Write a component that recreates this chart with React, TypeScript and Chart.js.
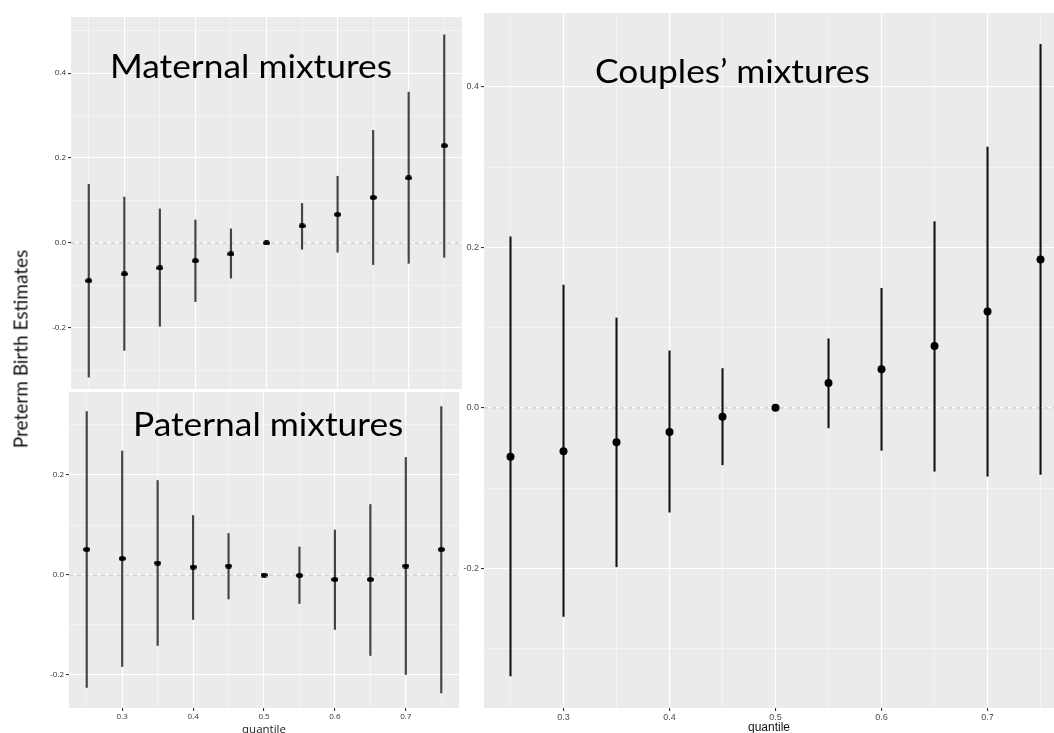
import React, { useEffect, useRef } from 'react';
import { Chart, registerables } from 'chart.js';

Chart.register(...registerables);

// ---------- data ----------
const QUANTILES = [0.25, 0.3, 0.35, 0.4, 0.45, 0.5, 0.55, 0.6, 0.65, 0.7, 0.75];

const MATERNAL_EST = [-0.089, -0.073, -0.059, -0.042, -0.026, 0, 0.04, 0.067, 0.107, 0.153, 0.229];
const MATERNAL_LOW = [-0.316, -0.253, -0.196, -0.138, -0.083, 0, -0.015, -0.022, -0.051, -0.048, -0.034];
const MATERNAL_HIGH = [0.138, 0.108, 0.08, 0.054, 0.033, 0, 0.093, 0.157, 0.265, 0.355, 0.49];

const PATERNAL_EST = [0.051, 0.033, 0.024, 0.016, 0.018, 0, -0.001, -0.009, -0.009, 0.018, 0.051];
const PATERNAL_LOW = [-0.225, -0.183, -0.141, -0.089, -0.048, 0, -0.057, -0.109, -0.161, -0.199, -0.236];
const PATERNAL_HIGH = [0.327, 0.248, 0.189, 0.119, 0.083, 0, 0.056, 0.09, 0.141, 0.235, 0.337];

const COUPLES_EST = [-0.061, -0.054, -0.043, -0.03, -0.011, 0, 0.031, 0.048, 0.077, 0.12, 0.185];
const COUPLES_LOW = [-0.334, -0.26, -0.198, -0.13, -0.071, 0, -0.025, -0.053, -0.079, -0.085, -0.083];
const COUPLES_HIGH = [0.213, 0.153, 0.112, 0.071, 0.049, 0, 0.086, 0.149, 0.232, 0.325, 0.453];

const X_GRID = [0.25, 0.3, 0.35, 0.4, 0.45, 0.5, 0.55, 0.6, 0.65, 0.7, 0.75];
const X_TICK_VALUES = [0.3, 0.4, 0.5, 0.6, 0.7];
const X_TICK_LABELS = ['0.3', '0.4', '0.5', '0.6', '0.7'];

const MATERNAL_Y_GRID = [-0.3, -0.2, -0.1, 0, 0.1, 0.2, 0.3, 0.4, 0.5];
const PATERNAL_Y_GRID = [-0.2, -0.1, 0, 0.1, 0.2, 0.3];
const COUPLES_Y_GRID = [-0.3, -0.2, -0.1, 0, 0.1, 0.2, 0.3, 0.4];
const Y_TICK_VALUES = [-0.2, 0, 0.2, 0.4];
const Y_TICK_LABELS = ['-0.2', '0.0', '0.2', '0.4'];

const TITLE_MATERNAL = 'Maternal mixtures';
const TITLE_PATERNAL = 'Paternal mixtures';
const TITLE_COUPLES = 'Couples\u2019 mixtures';
const Y_TITLE = 'Preterm Birth Estimates';
const X_TITLE = 'quantile';

// ---------- helpers ----------
const near = (a: number, b: number) => Math.abs(a - b) < 1e-6;
const labelFor = (vals: number[], labels: string[], v: number) => {
  const i = vals.findIndex((x) => near(x, v));
  return i >= 0 ? labels[i] : '';
};
const isMajor = (vals: number[], v: number) => vals.some((x) => near(x, v));

const bgPlugin = {
  id: 'panelBg',
  beforeDraw(chart: any) {
    const { ctx, chartArea: a } = chart;
    ctx.save();
    ctx.fillStyle = '#EBEBEB';
    ctx.fillRect(a.left, a.top, a.right - a.left, a.bottom - a.top);
    ctx.restore();
  },
};

function makeDot(w: number, h: number) {
  const c = document.createElement('canvas');
  c.width = w;
  c.height = h;
  const g = c.getContext('2d')!;
  g.fillStyle = '#000';
  g.beginPath();
  g.ellipse(w / 2, h / 2, w / 2, h / 2, 0, 0, Math.PI * 2);
  g.fill();
  return c;
}

const zeroPad = (scale: any) => {
  scale.paddingTop = 0;
  scale.paddingBottom = 0;
  scale.paddingLeft = 0;
  scale.paddingRight = 0;
};

interface PanelSpec {
  est: number[];
  low: number[];
  high: number[];
  yGrid: number[];
  xMin: number;
  xMax: number;
  yMin: number;
  yMax: number;
  yAxisWidth: number;
  xAxisHeight: number;
  showX: boolean;
  big: boolean;
  width: number;
  height: number;
}

function buildConfig(p: PanelSpec): any {
  const tickFont = p.big
    ? { family: '"Liberation Sans", Arial, sans-serif', size: 9 }
    : { family: '"Open Sans", sans-serif', size: 8 };
  const tickColor = p.big ? '#4d4d4d' : '#333333';
  const marker = p.big ? 'circle' : makeDot(7, 5);
  return {
    type: 'bar',
    data: {
      datasets: [
        {
          type: 'scatter',
          data: p.est.map((y, i) => ({ x: QUANTILES[i], y })),
          pointStyle: marker,
          pointRadius: p.big ? 4 : 3,
          backgroundColor: '#000000',
          borderColor: '#000000',
          borderWidth: 0,
          order: 0,
        },
        {
          type: 'bar',
          data: QUANTILES.map((x, i) => ({ x, y: [p.low[i], p.high[i]] })),
          backgroundColor: p.big ? '#111111' : '#444444',
          barThickness: p.big ? 1.4 : 1.5,
          grouped: false,
          order: 1,
        },
        {
          type: 'line',
          data: [
            { x: p.xMin, y: 0 },
            { x: p.xMax, y: 0 },
          ],
          borderColor: '#c2c2c2',
          borderDash: [4, 4],
          borderWidth: 1,
          pointRadius: 0,
          order: 2,
        },
      ],
    },
    options: {
      responsive: false,
      animation: false,
      events: [],
      layout: { padding: 0, autoPadding: false },
      plugins: { legend: { display: false }, tooltip: { enabled: false }, title: { display: false } },
      scales: {
        x: {
          type: 'linear',
          min: p.xMin,
          max: p.xMax,
          offset: false,
          afterBuildTicks: (scale: any) => {
            scale.ticks = X_GRID.map((v) => ({ value: v }));
          },
          afterFit: (scale: any) => {
            scale.height = p.xAxisHeight;
            zeroPad(scale);
          },
          border: { display: false },
          grid: {
            offset: false,
            drawTicks: p.showX,
            tickLength: 3,
            color: (c: any) => (c.tick && isMajor(X_TICK_VALUES, c.tick.value) ? '#ffffff' : 'rgba(255,255,255,0.8)'),
            lineWidth: (c: any) => (c.tick && isMajor(X_TICK_VALUES, c.tick.value) ? 1.1 : 0.6),
            tickColor: (c: any) => (c.tick && isMajor(X_TICK_VALUES, c.tick.value) ? '#333333' : 'rgba(0,0,0,0)'),
          },
          ticks: {
            display: p.showX,
            autoSkip: false,
            maxRotation: 0,
            padding: 1,
            font: tickFont,
            color: tickColor,
            callback: (v: number) => labelFor(X_TICK_VALUES, X_TICK_LABELS, v),
          },
          title: {
            display: p.showX,
            text: X_TITLE,
            color: p.big ? '#111111' : '#222222',
            font: p.big
              ? { family: '"Liberation Sans", Arial, sans-serif', size: 12 }
              : { family: '"Open Sans", sans-serif', size: 11.5 },
            padding: { top: 0, bottom: p.big ? 2 : 0 },
          },
        },
        y: {
          type: 'linear',
          min: p.yMin,
          max: p.yMax,
          afterBuildTicks: (scale: any) => {
            scale.ticks = p.yGrid.map((v) => ({ value: v }));
          },
          afterFit: (scale: any) => {
            scale.width = p.yAxisWidth;
            zeroPad(scale);
          },
          border: { display: false },
          grid: {
            drawTicks: true,
            tickLength: 3,
            color: (c: any) => (c.tick && isMajor(Y_TICK_VALUES, c.tick.value) ? '#ffffff' : 'rgba(255,255,255,0.8)'),
            lineWidth: (c: any) => (c.tick && isMajor(Y_TICK_VALUES, c.tick.value) ? 1.1 : 0.6),
            tickColor: (c: any) => (c.tick && isMajor(Y_TICK_VALUES, c.tick.value) ? '#333333' : 'rgba(0,0,0,0)'),
          },
          ticks: {
            autoSkip: false,
            padding: 2,
            font: tickFont,
            color: tickColor,
            callback: (v: number) => labelFor(Y_TICK_VALUES, Y_TICK_LABELS, v),
          },
        },
      },
    },
    plugins: [bgPlugin],
  };
}

function Panel({ spec, left, top }: { spec: PanelSpec; left: number; top: number }) {
  const ref = useRef<HTMLCanvasElement>(null);
  useEffect(() => {
    if (!ref.current) return;
    const chart = new Chart(ref.current, buildConfig(spec));
    return () => chart.destroy();
  }, [spec]);
  return (
    <canvas
      ref={ref}
      width={spec.width}
      height={spec.height}
      style={{ position: 'absolute', left, top, width: spec.width, height: spec.height, display: 'block' }}
    />
  );
}

const MATERNAL_SPEC: PanelSpec = {
  est: MATERNAL_EST, low: MATERNAL_LOW, high: MATERNAL_HIGH, yGrid: MATERNAL_Y_GRID,
  xMin: 0.225, xMax: 0.775, yMin: -0.344, yMax: 0.532,
  yAxisWidth: 46, xAxisHeight: 0, showX: false, big: false, width: 437, height: 372,
};
const PATERNAL_SPEC: PanelSpec = {
  est: PATERNAL_EST, low: PATERNAL_LOW, high: PATERNAL_HIGH, yGrid: PATERNAL_Y_GRID,
  xMin: 0.225, xMax: 0.775, yMin: -0.266, yMax: 0.366,
  yAxisWidth: 44, xAxisHeight: 29, showX: true, big: false, width: 434, height: 345,
};
const COUPLES_SPEC: PanelSpec = {
  est: COUPLES_EST, low: COUPLES_LOW, high: COUPLES_HIGH, yGrid: COUPLES_Y_GRID,
  xMin: 0.225, xMax: 0.7627, yMin: -0.374, yMax: 0.492,
  yAxisWidth: 46, xAxisHeight: 29, showX: true, big: true, width: 616, height: 724,
};

const titleStyle: React.CSSProperties = {
  position: 'absolute',
  fontFamily: 'Lato, "Open Sans", sans-serif',
  fontSize: 33.5,
  lineHeight: 1,
  color: '#000',
  whiteSpace: 'nowrap',
  transform: 'scaleX(1.055)',
  transformOrigin: 'left top',
};

export default function App() {
  return (
    <div
      style={{
        position: 'absolute',
        left: 0,
        top: 0,
        width: 1054,
        height: 733,
        overflow: 'hidden',
        background: '#ffffff',
      }}
    >
      <Panel spec={MATERNAL_SPEC} left={25} top={17} />
      <Panel spec={PATERNAL_SPEC} left={25} top={392} />
      <Panel spec={COUPLES_SPEC} left={438} top={13} />
      <div style={{ ...titleStyle, left: 110, top: 48.5 }}>{TITLE_MATERNAL}</div>
      <div style={{ ...titleStyle, left: 133, top: 406.5 }}>{TITLE_PATERNAL}</div>
      <div style={{ ...titleStyle, left: 595, top: 53.5 }}>{TITLE_COUPLES}</div>
      <div
        style={{
          position: 'absolute',
          left: 20,
          top: 349,
          transform: 'translate(-50%, -50%) rotate(-90deg)',
          fontFamily: 'Lato, "Open Sans", sans-serif',
          fontSize: 19,
          whiteSpace: 'nowrap',
          color: '#111',
        }}
      >
        {Y_TITLE}
      </div>
    </div>
  );
}
